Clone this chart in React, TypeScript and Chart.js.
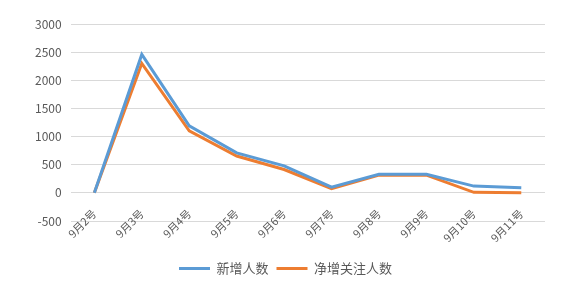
import React, { useEffect, useRef } from "react";
import { Chart, registerables } from "chart.js";

Chart.register(...registerables);

const categories = ["9月2号", "9月3号", "9月4号", "9月5号", "9月6号", "9月7号", "9月8号", "9月9号", "9月10号", "9月11号"];
const newFollowers = [0, 2460, 1190, 710, 480, 100, 330, 330, 120, 90];
const netFollowers = [0, 2300, 1100, 655, 415, 75, 315, 315, 10, 0];
const seriesNames = ["新增人数", "净增关注人数"];
const yTicks = { min: -500, max: 3000, step: 500 };

const FONT = "'Noto Sans CJK SC', 'Liberation Sans', sans-serif";

export default function App() {
  const ref = useRef<HTMLCanvasElement | null>(null);
  useEffect(() => {
    document.body.style.margin = "0";
    const chart = new Chart(ref.current!, {
      type: "line",
      data: {
        labels: categories,
        datasets: [
          {
            label: seriesNames[0],
            data: newFollowers,
            borderColor: "#5B9BD5",
            backgroundColor: "#5B9BD5",
            borderWidth: 3,
            pointRadius: 0,
            tension: 0,
          },
          {
            label: seriesNames[1],
            data: netFollowers,
            borderColor: "#ED7D31",
            backgroundColor: "#ED7D31",
            borderWidth: 3,
            pointRadius: 0,
            tension: 0,
          },
        ],
      },
      options: {
        animation: false,
        responsive: false,
        maintainAspectRatio: false,
        layout: { padding: { top: 24, right: 20, left: 26, bottom: 3 } },
        plugins: {
          tooltip: { enabled: false },
          legend: {
            position: "bottom",
            title: { display: true, text: " ", font: { size: 10 }, padding: { top: 21, bottom: 0 } },
            labels: {
              usePointStyle: true,
              pointStyle: "line",
              pointStyleWidth: 31,
              boxWidth: 31,
              boxHeight: 13,
              padding: 8,
              color: "#595959",
              font: { family: FONT, size: 13 },
            },
          },
        },
        scales: {
          x: {
            position: { y: 0 },
            offset: true,
            grid: { display: false, drawTicks: false },
            border: { display: false },
            ticks: {
              minRotation: 45,
              maxRotation: 45,
              color: "#595959",
              padding: 14,
              font: { family: FONT, size: 11 },
            },
          },
          y: {
            min: yTicks.min,
            max: yTicks.max,
            grid: { color: "#D9D9D9", drawTicks: false, lineWidth: 1 },
            border: { display: false },
            ticks: {
              stepSize: yTicks.step,
              color: "#595959",
              padding: 9,
              font: { family: FONT, size: 12 },
              callback: (v: any) => String(v),
            },
          },
        },
      },
    });
    return () => chart.destroy();
  }, []);
  return (
    <div style={{ width: 565, height: 288, background: "#fff" }}>
      <canvas ref={ref} width={565} height={288} />
    </div>
  );
}
